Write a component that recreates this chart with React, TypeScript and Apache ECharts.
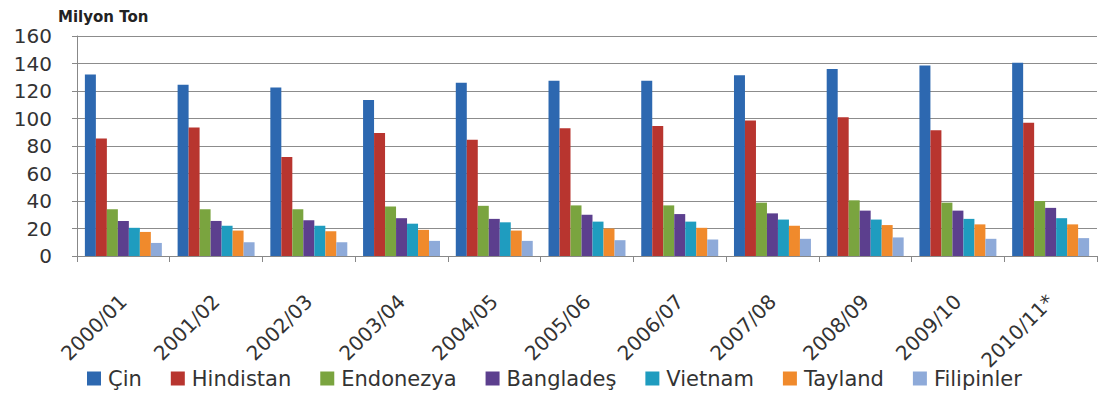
import React, { useEffect, useRef } from "react";
import * as echarts from "echarts";

const categories = ["2000/01", "2001/02", "2002/03", "2003/04", "2004/05", "2005/06", "2006/07", "2007/08", "2008/09", "2009/10", "2010/11*"];
const seriesNames = ["Çin", "Hindistan", "Endonezya", "Bangladeş", "Vietnam", "Tayland", "Filipinler"];
const cin = [132, 124.5, 122.5, 113.5, 126, 127.5, 127.5, 131.5, 136, 138.5, 140.5];
const hindistan = [85.5, 93.5, 72, 89.5, 84.5, 93, 94.5, 98.5, 101, 91.5, 97];
const endonezya = [34, 34, 34, 36, 36.5, 36.8, 36.8, 38.8, 40.5, 38.8, 40];
const banglades = [25.5, 25.5, 26, 27.5, 27, 30, 30.5, 31, 33, 33, 35];
const vietnam = [20.5, 22, 22, 23.5, 24.5, 25, 25, 26.5, 26.5, 27, 27.5];
const tayland = [17.5, 18.5, 18, 19, 18.5, 20, 20.5, 22, 22.5, 23, 23];
const filipinler = [9.5, 10, 10, 11, 11, 11.5, 12, 12.5, 13.5, 12.5, 13];
const seriesData = [cin, hindistan, endonezya, banglades, vietnam, tayland, filipinler];
const colors = ["#2d68b0", "#b8352f", "#7aa43f", "#5c3f8e", "#1f9cbf", "#f08a2c", "#8eaad9"];

const FONT = "DejaVu Sans";

export default function App() {
  const ref = useRef<HTMLDivElement>(null);
  useEffect(() => {
    document.body.style.margin = "0";
    const chart = echarts.init(ref.current!, null, { renderer: "svg" });
    chart.setOption({
      animation: false,
      backgroundColor: "#ffffff",
      color: colors,
      graphic: [
        {
          type: "text",
          left: 58,
          top: 9,
          style: { text: "Milyon Ton", font: `bold 15px "${FONT}"`, fill: "#222" },
        },
      ],
      grid: { left: 77, right: 13, top: 36, bottom: 140, containLabel: false },
      legend: {
        left: 82,
        top: 363,
        itemWidth: 14,
        itemHeight: 14,
        itemGap: 29,
        icon: "rect",
        data: seriesNames,
        textStyle: { fontFamily: FONT, fontSize: 21, color: "#333", padding: [0, 0, 0, 2] },
      },
      xAxis: {
        type: "category",
        data: categories,
        axisLine: { show: true, lineStyle: { color: "#888", width: 1 } },
        axisTick: { show: true, length: 6, lineStyle: { color: "#888" } },
        axisLabel: {
          interval: 0,
          rotate: 45,
          margin: 42,
          fontFamily: FONT,
          fontSize: 20,
          color: "#333",
        },
      },
      yAxis: {
        type: "value",
        min: 0,
        max: 160,
        interval: 20,
        axisLine: { show: true, lineStyle: { color: "#888", width: 1 } },
        axisTick: { show: true, length: 5, lineStyle: { color: "#888" } },
        splitLine: { show: true, lineStyle: { color: "#8c8c8c", width: 1.2 } },
        axisLabel: { margin: 25, fontFamily: FONT, fontSize: 20, color: "#333" },
      },
      series: seriesNames.map((name, i) => ({
        name,
        type: "bar",
        data: seriesData[i],
        barGap: "0%",
        barCategoryGap: "17%",
        itemStyle: { color: colors[i] },
      })),
    });
    return () => chart.dispose();
  }, []);
  return <div ref={ref} style={{ width: 1110, height: 396 }} />;
}
